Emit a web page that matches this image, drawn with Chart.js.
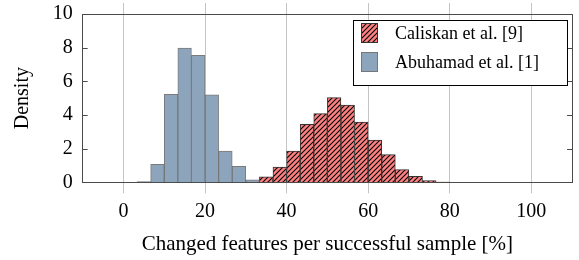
<!DOCTYPE html>
<html>
<head>
<meta charset="utf-8">
<script src="https://cdn.jsdelivr.net/npm/chart.js@4"></script>
<style>
html,body{margin:0;padding:0;background:#fff;}
canvas{display:block;}
</style>
</head>
<body>
<canvas id="c" width="579" height="260"></canvas>
<script>
// ---- data ----
const binCenters = [1.67, 5.00, 8.33, 11.67, 15.00, 18.33, 21.67, 25.00, 28.33, 31.67,
                    35.00, 38.33, 41.67, 45.00, 48.33, 51.67, 55.00, 58.33, 61.67, 65.00,
                    68.33, 71.67, 75.00, 78.33, 81.67, 85.00, 88.33, 91.67, 95.00, 98.33];
const caliskanDensity = [0, 0, 0, 0, 0, 0, 0, 0, 0, 0.03,
                         0.32, 0.91, 1.86, 3.45, 4.08, 5.03, 4.59, 3.58, 2.51, 1.64,
                         0.75, 0.36, 0.10, 0.02, 0, 0, 0, 0, 0, 0];
const abuhamadDensity = [0, 0.04, 1.07, 5.23, 7.98, 7.54, 5.19, 1.86, 0.95, 0.14,
                         0, 0, 0, 0, 0, 0, 0, 0, 0, 0,
                         0, 0, 0, 0, 0, 0, 0, 0, 0, 0];
const seriesLabels = ['Caliskan et al. [9]', 'Abuhamad et al. [1]'];
const xTicks = [0, 20, 40, 60, 80, 100];
const yTicks = [0, 2, 4, 6, 8, 10];
const xTitle = 'Changed features per successful sample [%]';
const yTitle = 'Density';

// ---- styles ----
const FONT = 'Liberation Serif';
const TICK_FS = 20;
const TITLE_FS = 21;
const LEG_FS = 18;
const GRID = '#c4c4c4';
const FRAME = '#4a4a4a';
const RED = '#ff8080';
const BLUE = '#8da4bd';

function hatch() {
  const s = 5;
  const c = document.createElement('canvas');
  c.width = s; c.height = s;
  const g = c.getContext('2d');
  g.fillStyle = RED; g.fillRect(0, 0, s, s);
  g.strokeStyle = '#000'; g.lineWidth = 1.1;
  g.beginPath();
  g.moveTo(0, s); g.lineTo(s, 0);
  g.moveTo(-1, 1); g.lineTo(1, -1);
  g.moveTo(s - 1, s + 1); g.lineTo(s + 1, s - 1);
  g.stroke();
  return g.createPattern(c, 'repeat');
}
const redPattern = hatch();

const toXY = arr => arr.map((v, i) => ({x: binCenters[i], y: v}));

const innerTicks = {
  id: 'innerTicks',
  afterDatasetsDraw(chart) {
    const {ctx, chartArea: a, scales: {y}} = chart;
    ctx.save();
    ctx.strokeStyle = FRAME; ctx.lineWidth = 1;
    yTicks.forEach(v => {
      const py = Math.round(y.getPixelForValue(v)) + 0.5;
      ctx.beginPath();
      ctx.moveTo(a.left, py); ctx.lineTo(a.left + 5, py);
      ctx.moveTo(a.right, py); ctx.lineTo(a.right - 5, py);
      ctx.stroke();
    });
    ctx.restore();
  }
};

const boxLegend = {
  id: 'boxLegend',
  afterDraw(chart) {
    const {ctx, chartArea: a} = chart;
    const w = 214, h = 65;
    const L = a.right - 5 - w, T = a.top + 6;
    ctx.save();
    ctx.fillStyle = '#fff';
    ctx.fillRect(L, T, w, h);
    ctx.strokeStyle = '#000'; ctx.lineWidth = 1;
    ctx.strokeRect(Math.round(L) + 0.5, Math.round(T) + 0.5, w, h);
    const fills = [redPattern, BLUE];
    const borders = ['#333', '#777'];
    chart.data.datasets.forEach((ds, i) => {
      const sy = T + 3 + i * 29;
      ctx.fillStyle = fills[i];
      ctx.fillRect(L + 8, sy, 17, 20);
      ctx.strokeStyle = borders[i];
      ctx.strokeRect(L + 8.5, sy + 0.5, 16, 19);
      ctx.fillStyle = '#000';
      ctx.font = LEG_FS + 'px "' + FONT + '"';
      ctx.textBaseline = 'middle';
      ctx.textAlign = 'left';
      ctx.fillText(ds.label, L + 42, sy + 11);
    });
    ctx.restore();
  }
};

new Chart(document.getElementById('c'), {
  type: 'bar',
  data: {
    datasets: [
      {
        label: seriesLabels[0],
        data: toXY(caliskanDensity),
        backgroundColor: redPattern,
        borderColor: '#333',
        borderWidth: 1,
        grouped: false,
        barPercentage: 1,
        categoryPercentage: 1,
        order: 2
      },
      {
        label: seriesLabels[1],
        data: toXY(abuhamadDensity),
        backgroundColor: BLUE,
        borderColor: 'rgba(100,100,100,0.85)',
        borderWidth: 1,
        grouped: false,
        barPercentage: 1,
        categoryPercentage: 1,
        order: 1
      }
    ]
  },
  options: {
    responsive: false,
    animation: false,
    events: [],
    layout: {padding: {left: 0, right: 7, top: 3, bottom: 0}},
    plugins: {legend: {display: false}, tooltip: {enabled: false}},
    scales: {
      x: {
        type: 'linear', position: 'bottom', min: -10, max: 110, offset: false,
        afterBuildTicks: s => { s.ticks = xTicks.map(v => ({value: v})); },
        ticks: {color: '#000', font: {family: FONT, size: TICK_FS}, padding: 6, maxRotation: 0},
        grid: {color: GRID, lineWidth: 1, tickLength: 11, tickColor: GRID, offset: false},
        border: {color: FRAME, width: 1},
        title: {display: true, text: xTitle, color: '#000', font: {family: FONT, size: TITLE_FS}, padding: {top: 2, bottom: 3}},
        afterFit: s => { s.height = 77.7; s.paddingLeft = 0; s.paddingRight = 0; }
      },
      x2: {
        type: 'linear', position: 'top', min: -10, max: 110, offset: false,
        afterBuildTicks: s => { s.ticks = xTicks.map(v => ({value: v})); },
        ticks: {display: false},
        grid: {drawOnChartArea: false, tickLength: 11, color: GRID, tickColor: GRID, offset: false},
        border: {color: FRAME, width: 1},
        afterFit: s => { s.height = 11; s.paddingLeft = 0; s.paddingRight = 0; }
      },
      y: {
        type: 'linear', position: 'left', min: 0, max: 10,
        afterBuildTicks: s => { s.ticks = yTicks.map(v => ({value: v})); },
        ticks: {color: '#000', font: {family: FONT, size: TICK_FS}, padding: 10},
        grid: {display: false, drawTicks: false},
        border: {color: FRAME, width: 1},
        title: {display: true, text: yTitle, color: '#000', font: {family: FONT, size: TITLE_FS - 1}, padding: {top: 11, bottom: 0}},
        afterFit: s => { s.width = 82.7; s.paddingTop = 0; s.paddingBottom = 0; }
      },
      y2: {
        type: 'linear', position: 'right', min: 0, max: 10,
        ticks: {display: false},
        grid: {display: false, drawTicks: false},
        border: {color: FRAME, width: 1},
        afterFit: s => { s.width = 0; s.paddingTop = 0; s.paddingBottom = 0; }
      }
    }
  },
  plugins: [innerTicks, boxLegend]
});
</script>
</body>
</html>
